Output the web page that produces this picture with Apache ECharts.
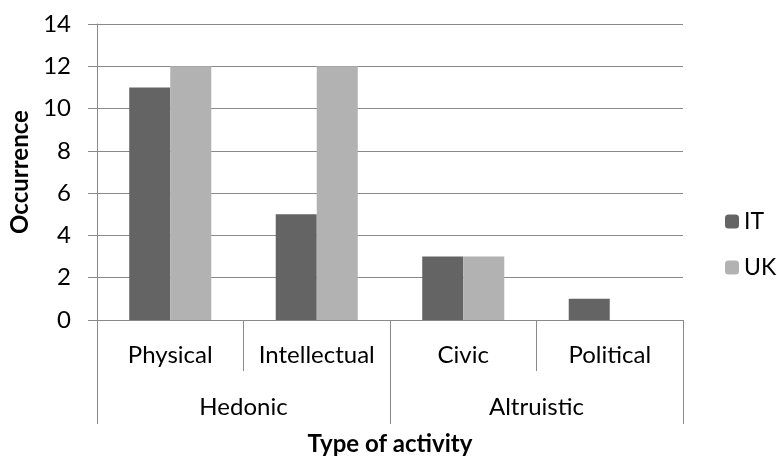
<!DOCTYPE html>
<html>
<head>
<meta charset="utf-8">
<script src="https://cdn.jsdelivr.net/npm/echarts@6/dist/echarts.min.js"></script>
<style>html,body{margin:0;padding:0;background:#fff}#c{width:777px;height:461px}</style>
</head>
<body>
<div id="c"></div>
<script>
var categories = ['Physical', 'Intellectual', 'Civic', 'Political'];
var groups = ['Hedonic', 'Altruistic'];
var seriesIT = [11, 5, 3, 1];
var seriesUK = [12, 12, 3, 0];
var yTicks = { min: 0, max: 14, interval: 2 };

var FONT = 'Lato';
var FS = 24;
var chart = echarts.init(document.getElementById('c'));
var grey = '#898989';
chart.setOption({
  animation: false,
  textStyle: { fontFamily: FONT },
  grid: { left: 97, right: 94, top: 24, bottom: 139, containLabel: false },
  legend: {
    orient: 'vertical', left: 725, top: 210, padding: 0,
    itemWidth: 14, itemHeight: 14, itemGap: 23,
    textStyle: { fontFamily: FONT, fontSize: 23, color: '#000' },
    data: ['IT', 'UK']
  },
  xAxis: [{
    type: 'category', data: categories, position: 'bottom',
    axisLine: { show: true, lineStyle: { color: grey, width: 1 } },
    axisTick: { show: true, interval: 0, length: 51, lineStyle: { color: grey, width: 1 } },
    axisLabel: { interval: 0, margin: 23, fontSize: FS, color: '#000', fontFamily: FONT }
  }, {
    type: 'category', data: groups, position: 'bottom',
    axisLine: { show: false },
    axisTick: { show: true, interval: 0, length: 104, lineStyle: { color: grey, width: 1 } },
    axisLabel: { interval: 0, margin: 75, fontSize: FS, color: '#000', fontFamily: FONT },
    name: 'Type of activity', nameLocation: 'middle', nameGap: 112,
    nameTextStyle: { fontSize: FS, fontWeight: 'bold', color: '#000', fontFamily: FONT }
  }],
  yAxis: {
    type: 'value', min: yTicks.min, max: yTicks.max, interval: yTicks.interval,
    axisLine: { show: true, lineStyle: { color: grey, width: 1 } },
    axisTick: { show: true, length: 9, lineStyle: { color: grey, width: 1 } },
    splitLine: { show: true, lineStyle: { color: grey, width: 1 } },
    axisLabel: { margin: 26, fontSize: FS, color: '#000', fontFamily: FONT },
    name: 'Occurrence', nameLocation: 'middle', nameGap: 60, nameRotate: 90,
    nameTextStyle: { fontSize: FS, fontWeight: 'bold', color: '#000', fontFamily: FONT }
  },
  series: [{
    name: 'IT', type: 'bar', data: seriesIT, xAxisIndex: 0,
    barGap: '0%', barCategoryGap: '44%',
    itemStyle: { color: '#646464' }
  }, {
    name: 'UK', type: 'bar', data: seriesUK, xAxisIndex: 0,
    barGap: '0%', barCategoryGap: '44%',
    itemStyle: { color: '#b2b2b2' }
  }]
});
</script>
</body>
</html>
